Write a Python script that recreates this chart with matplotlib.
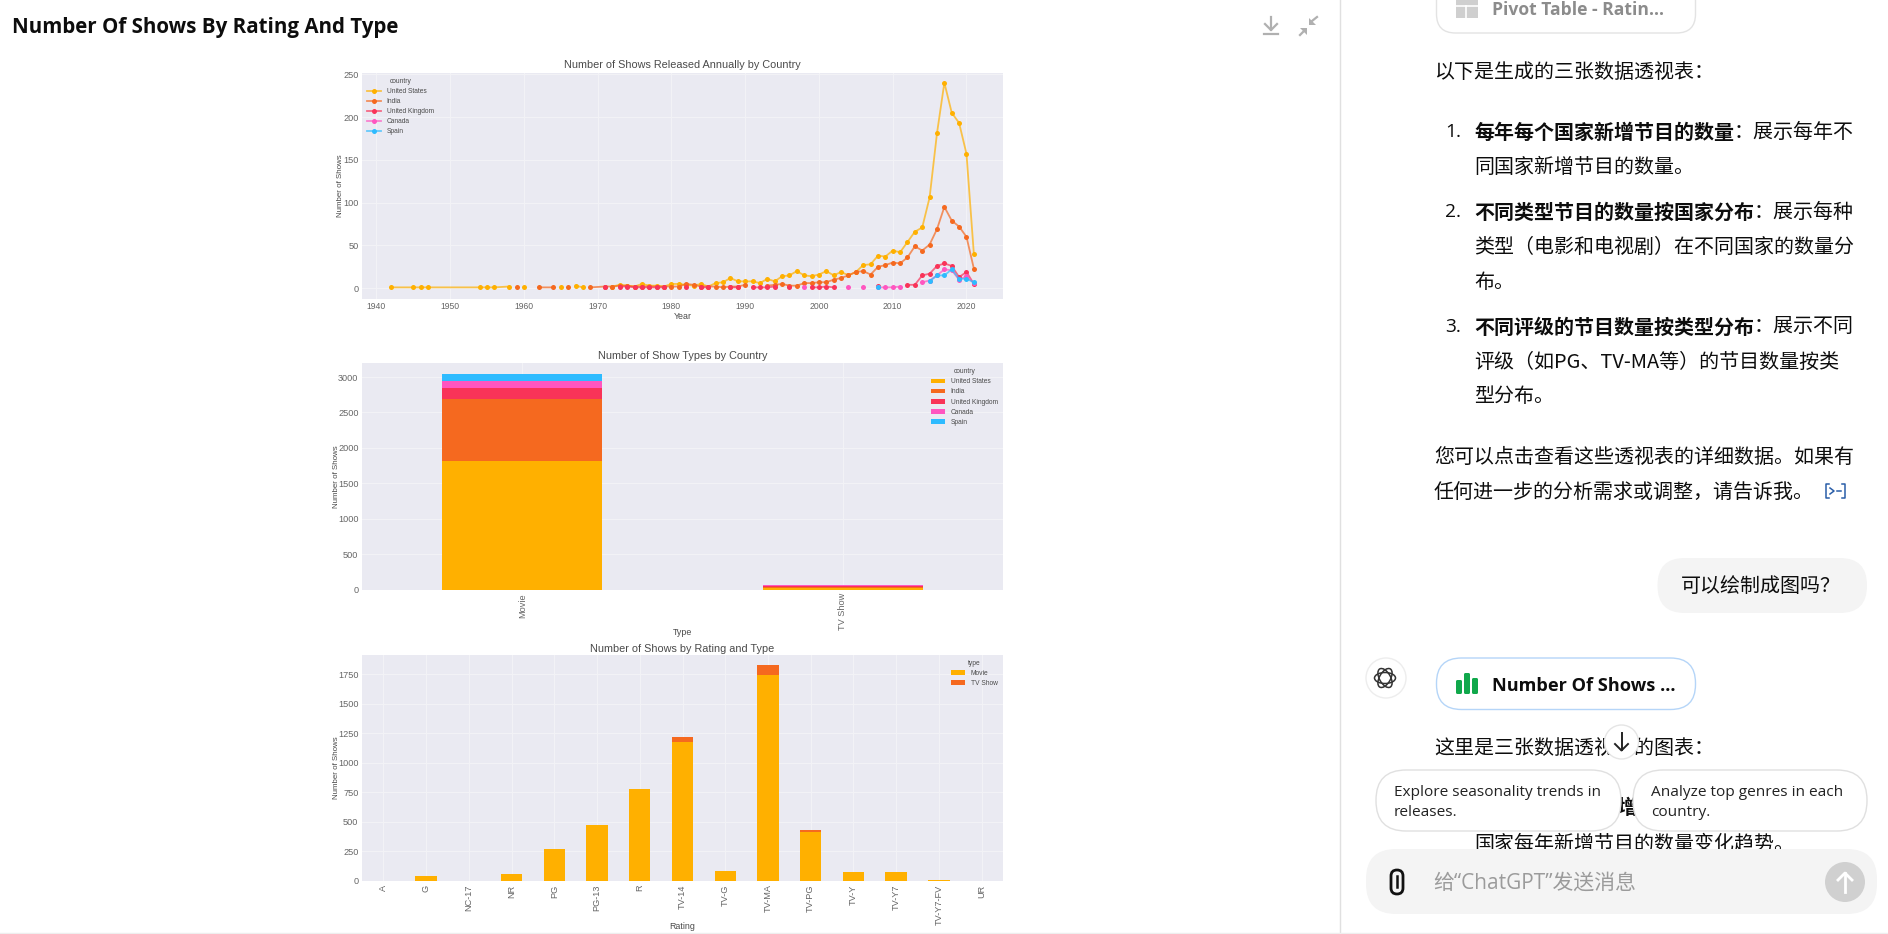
import matplotlib
matplotlib.use('Agg')
import matplotlib.pyplot as plt
from matplotlib.colors import to_rgba
from matplotlib.patches import FancyBboxPatch, Circle, Ellipse, Rectangle, Polygon

n = float('nan')

# chart data
years = [1942, 1945, 1946, 1947, 1954, 1955, 1956, 1958, 1959, 1960, 1962, 1964, 1965, 1966, 1967, 1968, 1969] + list(range(1971, 2022))
united_states = [1, 1, 1, 1, 1, 1, 1, 2, n, 2, n, n, 1, n, 3, 1, n,
                 n, 2, 4, 3, 2, 5, 3, 3, 2, 5,
                 5, 4, 3, 5, 2, 6, 7, 12, 8, 8,
                 8, 6, 11, 8, 14, 15, 20, 15, 14, 16,
                 20, 15, 19, 15, 19, 27, 28, 38, 37, 44,
                 42, 54, 66, 71, 106, 181, 240, 205, 193, 157, 40]
india = [n, n, n, n, n, n, n, n, 1, n, 1, 1, n, 1, n, n, 1,
         2, 2, 3, 3, 2, 2, 2, 2, 2, 2,
         2, 5, 4, 2, 2, 2, 1, 2, 2, 4,
         n, n, 3, 4, 5, 3, 3, 6, 6, 7,
         7, 10, 12, 15, 19, 20, 16, 25, 27, 30,
         29, 36, 49, 44, 51, 69, 95, 79, 72, 60, 23]
united_kingdom = [n] * 17 + [1, n, 2, 2, 1, 1, 1, 1, 1, n,
                             n, 2, n, 1, 1, n, n, 1, 1, n,
                             1, 1, 1, 2, n, 1, n, n, 1, 1,
                             2, 1, n, n, n, n, n, 3, n, n,
                             n, 4, 4, 15, 17, 26, 29, 26, 13, 19, 5]
canada = [n] * 17 + [n] * 20 + [n, n, n, n, n, n, n, 1, n, n,
                                n, n, n, 1, n, 1, n, 1, 1, 1,
                                2, n, n, 7, 9, 15, 22, 21, 10, 14, 6]
spain = [n] * 17 + [n] * 37 + [1, n, n] + [n, n, n, n, 8, 15, 15, 22, 11, 11, 7]

countries = ['United States', 'India', 'United Kingdom', 'Canada', 'Spain']
colors = ['#FFB000', '#F5691F', '#F93358', '#FF56C0', '#2EBBFF']
year_series = [united_states, india, united_kingdom, canada, spain]

show_types = ['Movie', 'TV Show']
type_by_country = [[1820, 20], [870, 10], [160, 25], [100, 3], [90, 3]]

ratings = ['A', 'G', 'NC-17', 'NR', 'PG', 'PG-13', 'R', 'TV-14', 'TV-G', 'TV-MA', 'TV-PG', 'TV-Y', 'TV-Y7', 'TV-Y7-FV', 'UR']
rating_movie = [3, 41, 3, 58, 275, 470, 780, 1175, 87, 1740, 415, 75, 75, 5, 3]
rating_tv = [0, 0, 0, 3, 0, 0, 2, 40, 1, 85, 17, 5, 5, 1, 0]

# chat panel text
page_title = 'Number Of Shows By Rating And Type'
intro = '以下是生成的三张数据透视表：'
items = [
    ('1.', '每年每个国家新增节目的数量', '：展示每年不', ['同国家新增节目的数量。'], 131),
    ('2.', '不同类型节目的数量按国家分布', '：展示每种', ['类型（电影和电视剧）在不同国家的数量分', '布。'], 211),
    ('3.', '不同评级的节目数量按类型分布', '：展示不同', ['评级（如PG、TV-MA等）的节目数量按类', '型分布。'], 326),
]
outro = ['您可以点击查看这些透视表的详细数据。如果有', '任何进一步的分析需求或调整，请告诉我。']
question = '可以绘制成图吗？'
reply = '这里是三张数据透视表的图表：'
hidden_line = '国家每年新增节目的数量变化趋势。'
chips = [['Explore seasonality trends in', 'releases.'], ['Analyze top genres in each', 'country.']]
placeholder = '给“ChatGPT”发送消息'

W, H = 1888, 934
plt.rcParams['font.family'] = ['Liberation Sans', 'DejaVu Sans']
cjk = ['Noto Sans CJK SC', 'DejaVu Sans']
ui = ['Open Sans', 'Noto Sans CJK SC']
text_col = '#4A4A4A'

fig = plt.figure(figsize=(W / 100, H / 100), dpi=100, facecolor='white')


def chart_axes(left, top, right, bottom):
    ax = fig.add_axes([left / W, 1 - bottom / H, (right - left) / W, (bottom - top) / H])
    ax.set_facecolor('#EAEAF2')
    ax.grid(True, color='#F3F3F7', lw=0.7)
    ax.set_axisbelow(True)
    for s in ax.spines.values():
        s.set_visible(False)
    ax.tick_params(length=0, labelsize=6.6, labelcolor='#666666', pad=2.5)
    return ax


def style(ax, title, xlabel, legend_title, legend_loc, xcoord, ycoord, title_pad=3):
    ax.set_title(title, fontsize=7.8, color=text_col, pad=title_pad)
    ax.set_xlabel(xlabel, fontsize=6.4, color=text_col)
    ax.xaxis.set_label_coords(0.5, ycoord)
    ax.set_ylabel('Number of Shows', fontsize=5.7, color=text_col)
    ax.yaxis.set_label_coords(xcoord, 0.5)
    leg = ax.legend(title=legend_title, loc=legend_loc, frameon=False, fontsize=4.8,
                    title_fontsize=4.8, labelspacing=0.46, handlelength=2.1, borderaxespad=0.4)
    for t in leg.get_texts() + [leg.get_title()]:
        t.set_color(text_col)


# line chart
ax1 = chart_axes(362, 72.5, 1003, 298.5)
for vals, name, col in zip(year_series, countries, colors):
    ax1.plot(years, vals, color=to_rgba(col, 0.7), lw=1.3, marker='o', ms=3.6,
             mfc=col, mec=col, mew=0, label=name)
ax1.set_xlim(1938.05, 2024.95)
ax1.set_ylim(-12, 252)
ax1.set_xticks(range(1940, 2021, 10))
ax1.set_yticks(range(0, 251, 50))
ax1.tick_params(axis='x', labelsize=6.2)
style(ax1, 'Number of Shows Released Annually by Country', 'Year', 'country', 'upper left', -0.028, -0.058)

# stacked bars by country
ax2 = chart_axes(362, 363, 1003, 589.5)
bottom = [0, 0]
for vals, name, col in zip(type_by_country, countries, colors):
    ax2.bar(range(len(show_types)), vals, 0.5, bottom=bottom, color=col, label=name)
    bottom = [a + b for a, b in zip(bottom, vals)]
ax2.set_xlim(-0.5, 1.5)
ax2.set_ylim(0, 3198)
ax2.set_xticks(range(len(show_types)))
ax2.set_xticklabels(show_types, rotation=90)
ax2.set_yticks(range(0, 3001, 500))
style(ax2, 'Number of Show Types by Country', 'Type', 'country', 'upper right', -0.035, -0.168)

# stacked bars by rating
ax3 = chart_axes(362, 654.5, 1003, 881)
ax3.bar(range(len(ratings)), rating_movie, 0.5, color=colors[0], label='Movie')
ax3.bar(range(len(ratings)), rating_tv, 0.5, bottom=rating_movie, color=colors[1], label='TV Show')
ax3.set_xlim(-0.5, 14.5)
ax3.set_ylim(0, 1917)
ax3.set_xticks(range(len(ratings)))
ax3.set_xticklabels(ratings, rotation=90)
ax3.set_yticks(range(0, 1751, 250))
style(ax3, 'Number of Shows by Rating and Type', 'Rating', 'type', 'upper right', -0.035, -0.18, title_pad=2)

# page layer in pixel coordinates
page = fig.add_axes([0, 0, 1, 1], zorder=-1)
page.set_xlim(0, W)
page.set_ylim(H, 0)
page.axis('off')


def rbox(x0, y0, x1, y1, r, fc='white', ec='none', lw=1, z=2):
    page.add_patch(FancyBboxPatch((x0, y0), x1 - x0, y1 - y0, boxstyle=f'round,pad=0,rounding_size={r}',
                                  fc=fc, ec=ec, lw=lw, zorder=z))


def say(x, y, s, size=14.4, weight='normal', col='#0D0D0D', z=1, fam=None):
    page.text(x, y, s, fontsize=size, fontweight=weight, color=col, va='center', ha='left',
              family=fam or cjk, zorder=z)


page.text(12, 27, page_title, fontsize=14.8, fontweight='bold', color='#0D0D0D', va='center', family=ui)

# header icons
icon = '#B0B0B0'
page.plot([1271, 1271], [17, 30], color=icon, lw=1.6)
page.plot([1265, 1271, 1277], [24, 30, 24], color=icon, lw=1.6)
page.plot([1264, 1278], [34, 34], color=icon, lw=1.6)
page.add_patch(Polygon([(1300, 28), (1307, 28), (1307, 35)], fc=icon, ec='none'))
page.plot([1303, 1300], [32, 35], color=icon, lw=1.6)
page.add_patch(Polygon([(1309, 18), (1309, 25), (1316, 25)], fc=icon, ec='none'))
page.plot([1312, 1317], [21, 17], color=icon, lw=1.6)

# panel border and bottom rule
page.plot([1340, 1340], [0, H], color='#E0E0E0', lw=1)
page.plot([0, W], [932.5, 932.5], color='#EEEEEE', lw=1)

# chat text
step = 20
rbox(1436.5, -25, 1695.5, 33, 19, ec='#E3E3E3')
page.add_patch(Rectangle((1456, 0), 22, 18, fc='#CFCFCF', ec='none', zorder=3))
page.plot([1456, 1478], [6, 6], color='white', lw=1.2, zorder=3)
page.plot([1466, 1466], [6, 18], color='white', lw=1.2, zorder=3)
say(1492, 10, 'Pivot Table - Ratin...', size=12.6, weight='bold', col='#8C8C8C', z=3, fam=ui)

say(1434, 72, intro)
for num, bold, rest, extra, y in items:
    say(1445, y + 1, num, size=13.8, fam=ui)
    say(1474, y + 1, bold, weight='bold')
    say(1474 + len(bold) * step, y + 1, rest)
    for k, line in enumerate(extra):
        say(1474, y + 1 + 35 * (k + 1), line)
for k, line in enumerate(outro):
    say(1434, 457 + 35 * k, line)

# source citation icon
blue = '#2A5EA8'
page.plot([1829, 1826, 1826, 1829], [484, 484, 498, 498], color=blue, lw=1.1)
page.plot([1842, 1845, 1845, 1842], [484, 484, 498, 498], color=blue, lw=1.1)
page.plot([1830, 1834, 1830], [488, 491, 494], color=blue, lw=1.1)
page.plot([1837, 1841], [491, 491], color=blue, lw=1.1)

# user bubble
rbox(1657.5, 558, 1867, 613, 27, fc='#F4F4F4')
say(1681, 587, question, z=3)

# assistant logo and chart button
page.add_patch(Circle((1386, 678), 20, fc='white', ec='#EDEDED', lw=1, zorder=2))
for ang in (0, 60, 120):
    page.add_patch(Ellipse((1385, 678), 21, 11, angle=ang, fc='none', ec='#333333', lw=1.1, zorder=3))
rbox(1436.5, 658, 1695.5, 709.5, 25, ec='#B5D5F8')
for bx, top in zip((1456, 1464, 1472), (680, 673, 678)):
    page.add_patch(FancyBboxPatch((bx, top), 6, 694 - top, boxstyle='round,pad=0,rounding_size=1.5',
                                  fc='#10A84B', ec='none', zorder=3))
say(1492, 686, 'Number Of Shows ...', size=13.1, weight='bold', z=3, fam=ui)

say(1434, 748, reply)
say(1617, 808, '增', weight='bold')
say(1474, 844, hidden_line)

# scroll button
page.add_patch(Circle((1621.5, 742), 17, fc='white', ec='#E5E5E5', lw=1, zorder=4))
page.plot([1621.5, 1621.5], [733, 750], color='#222222', lw=1.4, zorder=5)
page.plot([1615, 1621.5, 1628], [744, 750.5, 744], color='#222222', lw=1.4, zorder=5)

# suggestion chips
for (x0, x1), lines in zip(((1376, 1621), (1633, 1867)), chips):
    rbox(x0, 770, x1, 831, 30, ec='#E0E0E0', z=3)
    for k, line in enumerate(lines):
        say(x0 + 18, 792 + 20 * k, line, size=11.1, col='#222222', z=4, fam=ui)

# input box
rbox(1366, 849, 1877, 914, 30, fc='#F4F4F4', z=3)
say(1433, 883, placeholder, size=15, col='#9B9B9B', z=4, fam=ui)
page.add_patch(FancyBboxPatch((1391, 870), 12, 24, boxstyle='round,pad=0,rounding_size=6',
                              fc='none', ec='#111111', lw=2, zorder=4))
page.plot([1397, 1397], [876, 887], color='#111111', lw=1.8, zorder=4)
page.add_patch(Circle((1845, 882), 20, fc='#D0D0D0', ec='none', zorder=4))
page.plot([1845, 1845], [873, 892], color='white', lw=2, zorder=5)
page.plot([1838, 1845, 1852], [880, 873, 880], color='white', lw=2, zorder=5)

fig.savefig('out.png', dpi=100)
